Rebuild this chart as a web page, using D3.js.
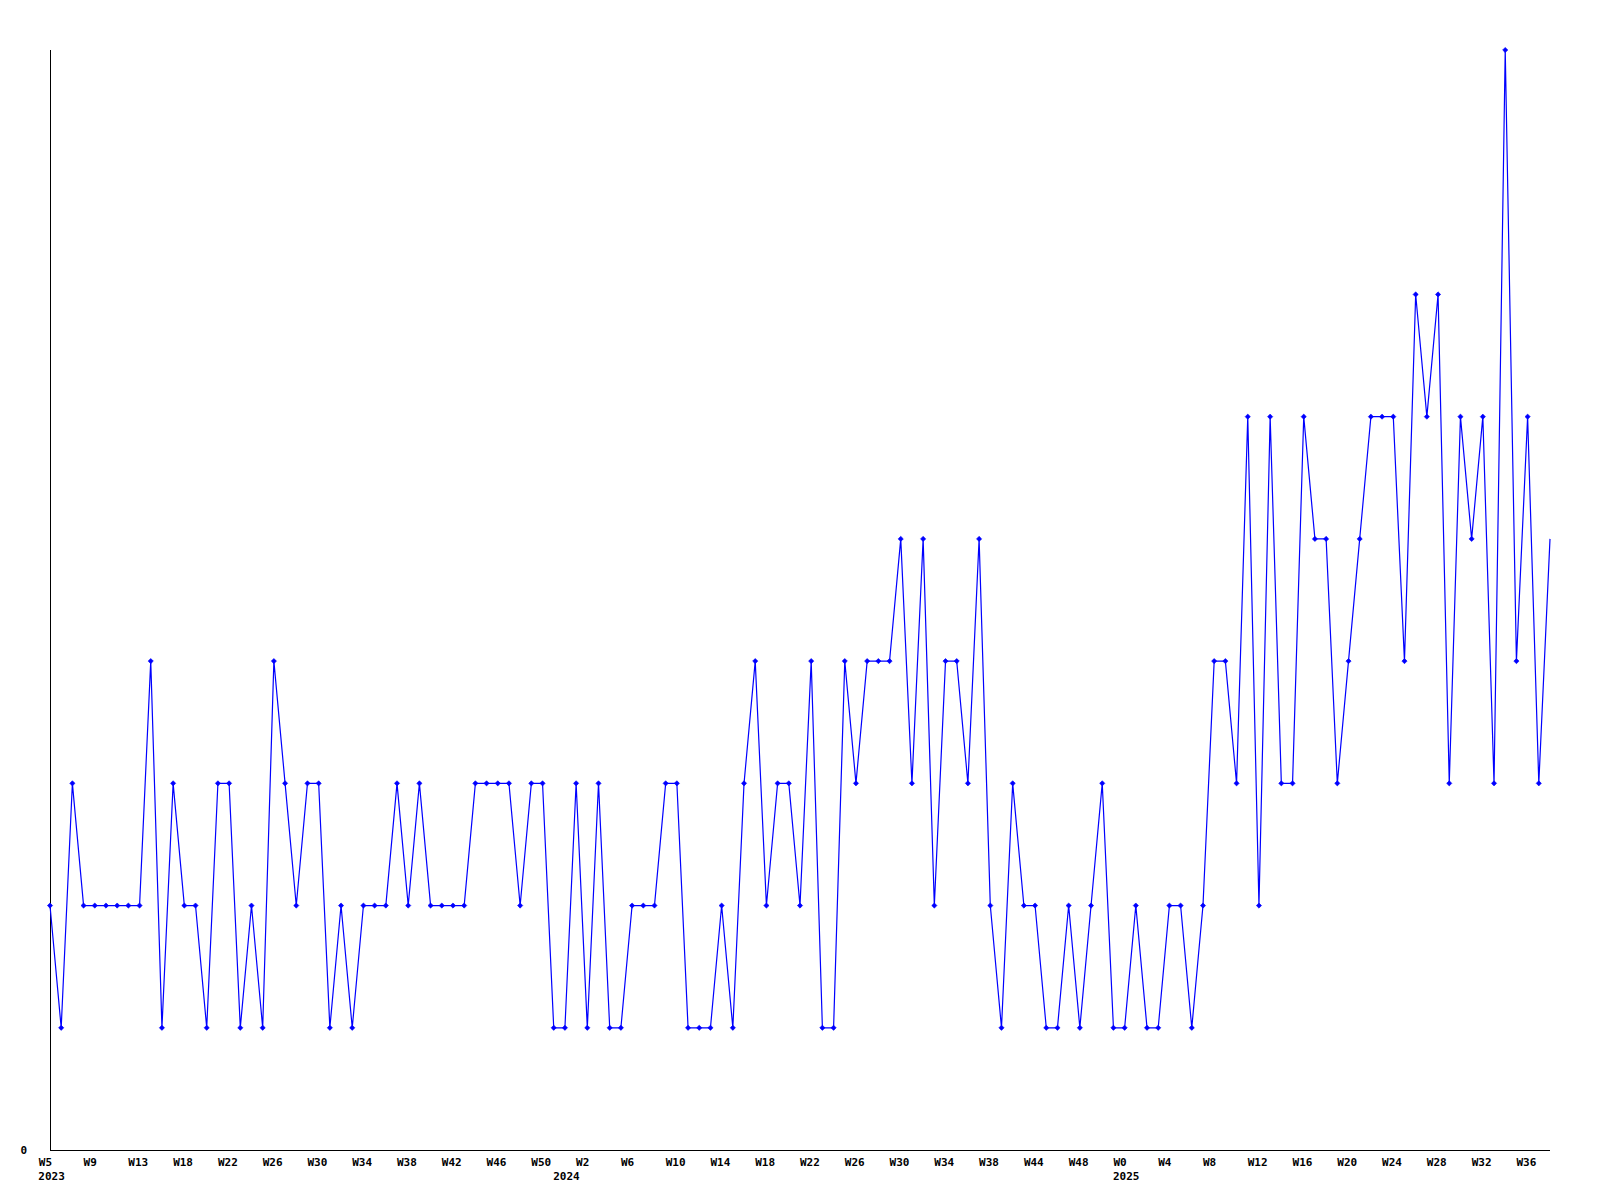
<!DOCTYPE html>
<html>
<head>
<meta charset="utf-8">
<script src="https://cdn.jsdelivr.net/npm/d3@7"></script>
<style>
  html, body { margin: 0; padding: 0; background: #fff; }
  svg { display: block; }
  text { font-family: "DejaVu Sans Mono", monospace; font-weight: bold; font-size: 11px; fill: #000; }
</style>
</head>
<body>
<svg id="chart" width="1600" height="1200"></svg>
<script>
// Weekly values, one per point (index 0 = 2023 W5)
const values = [
  2,1,3,2,2,2,2,2,2,4,
  1,3,2,2,1,3,3,1,2,1,
  4,3,2,3,3,1,2,1,2,2,
  2,3,2,3,2,2,2,2,3,3,
  3,3,2,3,3,1,1,3,1,3,
  1,1,2,2,2,3,3,1,1,1,
  2,1,3,4,2,3,3,2,4,1,
  1,4,3,4,4,4,5,3,5,2,
  4,4,3,5,2,1,3,2,2,1,
  1,2,1,2,3,1,1,2,1,1,
  2,2,1,2,4,4,3,6,2,6,
  3,3,6,5,5,3,4,5,6,6,
  6,4,7,6,7,3,6,5,6,3,
  9,4,6,3,5
];

// Week tick labels and the point-index where each label starts
const weekLabels = ["W5","W9","W13","W18","W22","W26","W30","W34","W38","W42","W46","W50",
  "W2","W6","W10","W14","W18","W22","W26","W30","W34","W38","W44","W48",
  "W0","W4","W8","W12","W16","W20","W24","W28","W32","W36"];
const weekTickAt = [-1,3,7,11,15,19,23,27,31,35,39,43,
  47,51,55,59,63,67,71,75,79,83,87,91,
  95,99,103,107,111,115,119,123,127,131];

const yearLabels = ["2023","2024","2025"];
const yearTickAt = [-1, 45, 95];

const yLabels = [0];
const yMax = 9;

const svg = d3.select("#chart");
const mLeft = 50, mRight = 1550, mTop = 50, mBottom = 1150;

const x = d3.scaleLinear().domain([0, values.length - 1]).range([mLeft, mRight]);
const y = d3.scaleLinear().domain([0, yMax]).range([mBottom, mTop]);

// axes lines
svg.append("line")
  .attr("x1", mLeft + 0.5).attr("x2", mLeft + 0.5)
  .attr("y1", y(yMax)).attr("y2", y(0) + 0.5)
  .attr("stroke", "#000").attr("stroke-width", 1).attr("shape-rendering", "crispEdges");
svg.append("line")
  .attr("x1", mLeft).attr("x2", x(values.length - 1))
  .attr("y1", y(0) + 0.5).attr("y2", y(0) + 0.5)
  .attr("stroke", "#000").attr("stroke-width", 1).attr("shape-rendering", "crispEdges");

// y label
svg.selectAll(".ylab").data(yLabels).enter().append("text")
  .attr("class", "ylab")
  .attr("x", mLeft - 23).attr("y", d => y(d) + 4)
  .attr("text-anchor", "end")
  .text(d => d);

// x week labels
svg.selectAll(".wlab").data(weekLabels).enter().append("text")
  .attr("class", "wlab")
  .attr("x", (d, i) => x(weekTickAt[i]))
  .attr("y", mBottom + 16)
  .attr("text-anchor", "start")
  .text(d => d);

// year labels
svg.selectAll(".yrlab").data(yearLabels).enter().append("text")
  .attr("class", "yrlab")
  .attr("x", (d, i) => x(yearTickAt[i]) - 0.5)
  .attr("y", mBottom + 30)
  .attr("text-anchor", "start")
  .text(d => d);

// line
const line = d3.line().x((d, i) => x(i)).y(d => y(d));
svg.append("path")
  .datum(values)
  .attr("d", line)
  .attr("fill", "none")
  .attr("stroke", "#0000ff")
  .attr("stroke-width", 1.2);

// markers (last, incomplete point has none)
svg.selectAll(".pt").data(values.slice(0, values.length - 1)).enter().append("path")
  .attr("class", "pt")
  .attr("d", (d, i) => {
    const cx = x(i), cy = y(d), r = 2.6;
    return `M${cx - r},${cy}L${cx},${cy - r}L${cx + r},${cy}L${cx},${cy + r}Z`;
  })
  .attr("fill", "#0000ff")
  .attr("stroke", "#0000ff")
  .attr("stroke-width", 0.6);
</script>
</body>
</html>
